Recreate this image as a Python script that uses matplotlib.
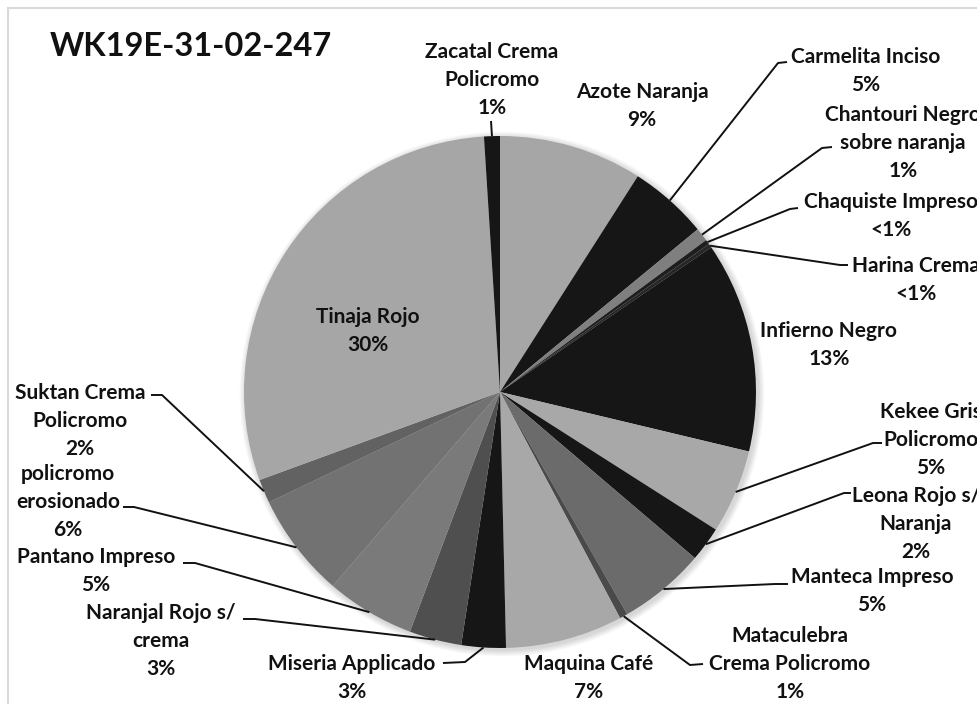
import numpy as np
import matplotlib.pyplot as plt
from matplotlib.patches import Rectangle, Circle

W, H = 977, 704

# slice data, clockwise from 12 o'clock
names = ['Azote Naranja', 'Carmelita Inciso', 'Chantouri Negro\nsobre naranja',
         'Chaquiste Impreso', 'Harina Crema', 'Infierno Negro', 'Kekee Gris\nPolicromo',
         'Leona Rojo s/\nNaranja', 'Manteca Impreso', 'Mataculebra\nCrema Policromo',
         'Maquina Café', 'Miseria Applicado', 'Naranjal Rojo s/\ncrema', 'Pantano Impreso',
         'policromo\nerosionado', 'Suktan Crema\nPolicromo', 'Tinaja Rojo',
         'Zacatal Crema\nPolicromo']
values = [9.05, 5.0, 0.85, 0.3, 0.25, 13.3, 5.3, 2.2, 5.5, 0.5, 7.4, 2.8, 3.3, 5.6,
          6.6, 1.5, 29.6, 1.0]
pct_labels = ['9%', '5%', '1%', '<1%', '<1%', '13%', '5%', '2%', '5%', '1%', '7%', '3%',
              '3%', '5%', '6%', '2%', '30%', '1%']
colors = ['#a6a6a6', '#161616', '#7f7f7f', '#1e1e1e', '#262626', '#161616', '#a8a8a8',
          '#161616', '#6b6b6b', '#4a4a4a', '#a8a8a8', '#161616', '#4f4f4f', '#7a7a7a',
          '#727272', '#626262', '#a6a6a6', '#161616']

# label layout in picture pixels: text centre, leader elbow, leader end
layout = {
    'Azote Naranja': ((642, 106), None, None),
    'Carmelita Inciso': ((866, 71), (778, 63), (787, 62)),
    'Chantouri Negro\nsobre naranja': ((903, 143), (822, 148), (832, 147)),
    'Chaquiste Impreso': ((891, 216), (790, 209), (798, 208)),
    'Harina Crema': ((916, 280), (840, 265), (848, 265)),
    'Infierno Negro': ((829, 345), None, None),
    'Kekee Gris\nPolicromo': ((931, 440), (873, 443), (882, 443)),
    'Leona Rojo s/\nNaranja': ((916, 524), (844, 493), (851, 493)),
    'Manteca Impreso': ((872, 591), (775, 584), (788, 584)),
    'Mataculebra\nCrema Policromo': ((790, 664), (690, 665), (703, 664)),
    'Maquina Café': ((589, 678), None, None),
    'Miseria Applicado': ((352, 678), (465, 662), (443, 663)),
    'Naranjal Rojo s/\ncrema': ((161, 641), (255, 619), (243, 619)),
    'Pantano Impreso': ((96, 571), (195, 563), (183, 563)),
    'policromo\nerosionado': ((68, 502), (134, 507), (123, 507)),
    'Suktan Crema\nPolicromo': ((80, 421), (162, 395), (151, 395)),
    'Tinaja Rojo': ((368, 331), None, None),
    'Zacatal Crema\nPolicromo': ((492, 80), (491, 121), (491, 121)),
}

cx, cy, r = 500, 392, 256
font = 'Lato'

fig = plt.figure(figsize=(W / 100, H / 100), dpi=100)
ax = fig.add_axes([0, 0, 1, 1])

# soft shadow round the pie
for k in range(8, 0, -1):
    ax.add_patch(Circle((cx + 2, H - cy - 2), r + k * 0.8, color='#000000',
                        alpha=0.018, lw=0, zorder=0))

wedges, _ = ax.pie(values, colors=colors, startangle=90, counterclock=False,
                   center=(cx, H - cy), radius=r, wedgeprops=dict(linewidth=0))
ax.set_xlim(0, W)
ax.set_ylim(0, H)
ax.set_aspect('equal')
ax.axis('off')

for w, name, pct in zip(wedges, names, pct_labels):
    (tx, ty), elbow, end = layout[name]
    ax.text(tx, H - ty, name + '\n' + pct, ha='center', va='center',
            multialignment='center', fontsize=15, fontweight='bold',
            family=font, color='#111111', linespacing=1.52, zorder=5)
    if elbow is not None:
        mid = np.radians((w.theta1 + w.theta2) / 2)
        ax_x = w.center[0] + w.r * np.cos(mid)
        ax_y = w.center[1] + w.r * np.sin(mid)
        ax.plot([ax_x, elbow[0], end[0]], [ax_y, H - elbow[1], H - end[1]],
                color='#111111', lw=1.4, zorder=4, solid_capstyle='butt')

ax.text(50, H - 47, 'WK19E-31-02-247', ha='left', va='center', fontsize=23.5,
        fontweight='bold', family=font, color='#111111')

# chart area border (cropped on the right and bottom)
fig.patches.append(Rectangle((8 / W, -0.1), 1.2, (H - 8) / H + 0.1,
                             transform=fig.transFigure, fill=False,
                             edgecolor='#d9d9d9', lw=1.5))

fig.savefig('out.png', dpi=100)
